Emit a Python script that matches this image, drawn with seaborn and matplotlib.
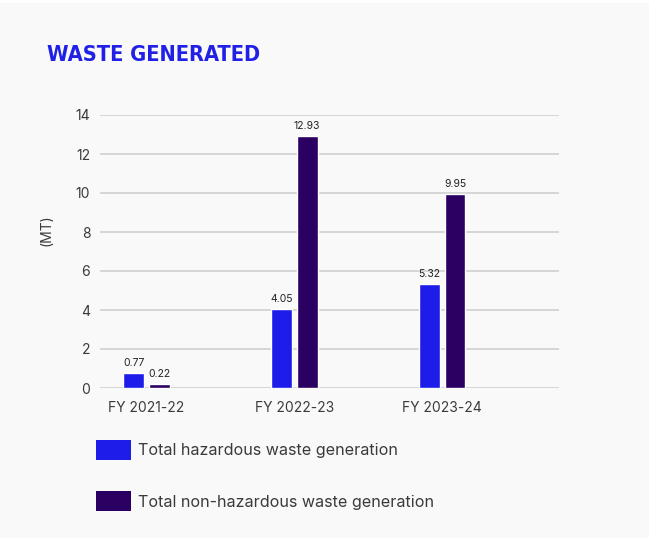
import matplotlib
matplotlib.use("Agg")
import matplotlib.pyplot as plt
import matplotlib.patches as mpatches
from matplotlib import font_manager
from matplotlib.font_manager import FontProperties
import seaborn as sns
import pandas as pd

# Waste generated per financial year (MT)
years = ["FY 2021-22", "FY 2022-23", "FY 2023-24"]
hazardous = [0.77, 4.05, 5.32]
non_hazardous = [0.22, 12.93, 9.95]
series_names = ["Total hazardous waste generation", "Total non-hazardous waste generation"]
y_ticks = [0, 2, 4, 6, 8, 10, 12, 14]

colors = ["#1e1ce8", "#2a0062"]
bg = "#f9f9f9"
text_gray = "#3a3a3a"

df = pd.DataFrame({
    "year": years * 2,
    "value": hazardous + non_hazardous,
    "series": [series_names[0]] * len(years) + [series_names[1]] * len(years),
})

sns.set_theme(style="white")
plt.rcParams["font.family"] = ["Inter", "DejaVu Sans"]


def condensed_bold_font():
    """Return the file of a bold condensed/narrow face if one is installed."""
    best = None
    for f in font_manager.fontManager.ttflist:
        w = f.weight if isinstance(f.weight, int) else 700 if "bold" in str(f.weight) else 400
        narrow = ("condensed" in str(f.stretch)) or ("Narrow" in f.name) or ("Condensed" in f.name)
        if narrow and w >= 600 and "oblique" not in f.style and "italic" not in f.style:
            score = 2 if "DejaVu" in f.name else 1
            if best is None or score > best[0]:
                best = (score, f.fname)
    return best[1] if best else None


cond_file = condensed_bold_font()
if cond_file:
    title_font = FontProperties(fname=cond_file, size=15.7)
else:
    title_font = FontProperties(family="Roboto", weight="bold", size=15.5)

fig = plt.figure(figsize=(6.49, 5.38), dpi=100, facecolor="white")
# light panel behind everything, leaving a thin white strip at the top
fig.patches.append(mpatches.Rectangle((0, 0), 1, 1 - 3 / 538, transform=fig.transFigure,
                                      facecolor=bg, edgecolor="none", zorder=-10))

ax = fig.add_axes([100 / 649, 1 - 388 / 538, 459 / 649, 273 / 538])
ax.set_facecolor(bg)

sns.barplot(data=df, x="year", y="value", hue="series", palette=colors,
            width=0.345, gap=0.18, saturation=1, ax=ax, legend=False, zorder=3)

for cont in ax.containers:
    ax.bar_label(cont, fmt="%.2f", padding=3.5, fontsize=7.5, color="#222222")

ax.set_ylim(0, 14)
ax.set_yticks(y_ticks)
ax.set_xlim(-0.315, 2.79)
ax.yaxis.grid(True, color="#cfcfcf", linewidth=1.2, zorder=0)
ax.set_axisbelow(True)
for s in ax.spines.values():
    s.set_visible(False)
ax.tick_params(axis="y", length=0, pad=7, labelsize=10, labelcolor=text_gray)
ax.tick_params(axis="x", length=0, pad=9, labelsize=10, labelcolor=text_gray)
ax.set_xlabel("")
ax.set_ylabel("(MT)", fontsize=10, color=text_gray, labelpad=0)
ax.yaxis.set_label_coords(-47 / 459, (388 - 230) / 273)

fig.text(47 / 649, 1 - 61 / 538, "WASTE GENERATED", fontproperties=title_font,
         color="#2020e6", va="baseline", ha="left")

handles = [mpatches.Patch(facecolor=c, edgecolor="none") for c in colors]
fig.legend(handles, series_names, loc="upper left",
           bbox_to_anchor=(96 / 649, 1 - 440 / 538), frameon=False,
           fontsize=11.6, labelcolor=text_gray, handlelength=2.2, handleheight=1.55,
           handletextpad=0.42, labelspacing=1.93, borderpad=0, borderaxespad=0)

fig.savefig("out.png", dpi=100, facecolor=fig.get_facecolor())
